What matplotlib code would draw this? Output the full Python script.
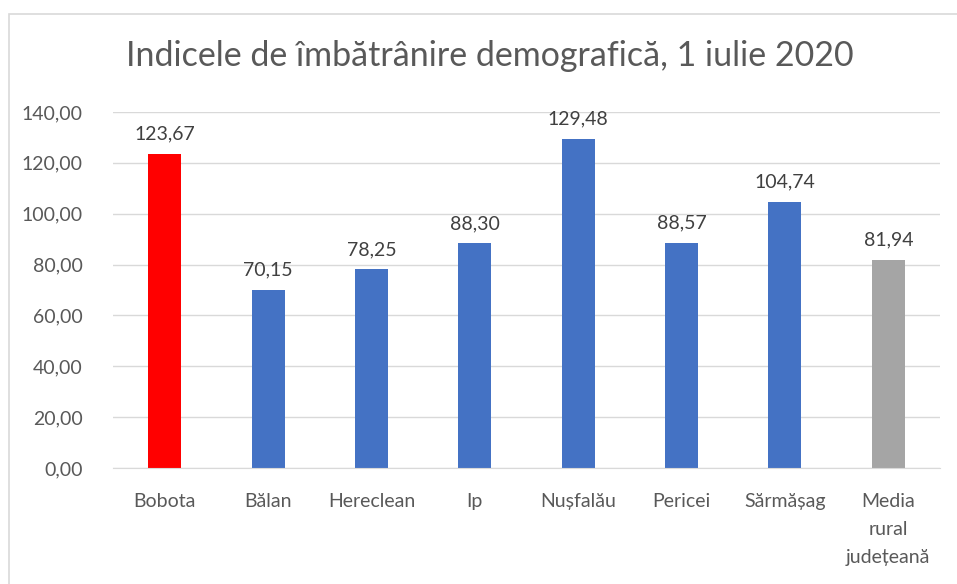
import matplotlib
matplotlib.use('Agg')
import matplotlib.pyplot as plt
from matplotlib.patches import Rectangle

plt.rcParams['font.family'] = ['Lato', 'DejaVu Sans']

categories = ['Bobota', 'Bălan', 'Hereclean', 'Ip', 'Nușfalău', 'Pericei',
              'Sărmășag', 'Media\nrural\njudețeană']
values = [123.67, 70.15, 78.25, 88.30, 129.48, 88.57, 104.74, 81.94]
colors = ['#FF0000'] + ['#4472C4'] * 6 + ['#A5A5A5']
yticks = [0, 20, 40, 60, 80, 100, 120, 140]

txt = '#595959'

fig = plt.figure(figsize=(9.57, 5.84), dpi=100)
ax = fig.add_axes([113/957, 1-468/584, (940-113)/957, (468-112)/584])

x = range(len(categories))
bars = ax.bar(x, values, width=0.32, color=colors, zorder=3)

for xi, v in zip(x, values):
    ax.annotate(f'{v:.2f}'.replace('.', ','), (xi, v), xytext=(0, 8),
                textcoords='offset points', ha='center', va='bottom',
                fontsize=14, color='#404040')

ax.set_xlim(-0.5, len(categories) - 0.5)
ax.set_ylim(0, 140)
ax.set_yticks(yticks)
ax.set_yticklabels([f'{t:.2f}'.replace('.', ',') for t in yticks],
                   fontsize=14, color=txt)
ax.set_xticks(list(x))
ax.set_xticklabels(categories, fontsize=14, color=txt, linespacing=1.8)
ax.tick_params(length=0)
ax.tick_params(axis='x', pad=18)
ax.tick_params(axis='y', pad=22)
ax.grid(axis='y', color='#D9D9D9', lw=1, zorder=0)
for s in ['top', 'right', 'left']:
    ax.spines[s].set_visible(False)
ax.spines['bottom'].set_color('#D9D9D9')
ax.spines['bottom'].set_zorder(4)

fig.text(490/957, 1-56/584, 'Indicele de îmbătrânire demografică, 1 iulie 2020',
         ha='center', va='center', fontsize=24.5, color=txt)

fig.patches.append(Rectangle((9/957, -0.1), 1.2, 1-14/584+0.1,
                             transform=fig.transFigure, fill=False,
                             edgecolor='#D9D9D9', lw=1.2))

fig.savefig('out.png', dpi=100)
